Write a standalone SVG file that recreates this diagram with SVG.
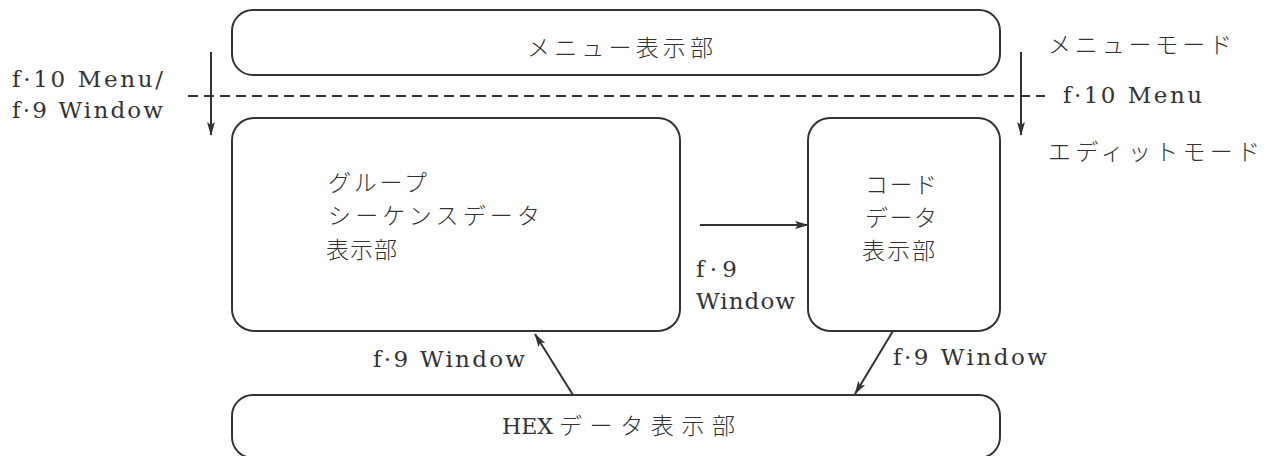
<svg xmlns="http://www.w3.org/2000/svg" width="1275" height="456" viewBox="0 0 1275 456">
<style>
.box{fill:none;stroke:#333;stroke-width:2}
.ln{fill:none;stroke:#333;stroke-width:2}
.t{font-family:"DejaVu Serif","Liberation Serif","Noto Sans CJK JP",serif;font-size:23px;fill:#333}
.j{font-family:"Noto Sans CJK JP","Liberation Serif",sans-serif;font-size:23px;fill:#333;font-weight:300}
</style>
<defs>
<marker id="ah" viewBox="0 0 14 10" refX="13" refY="5" markerWidth="14" markerHeight="10" markerUnits="userSpaceOnUse" orient="auto">
<path d="M0,1 L14,5 L0,9 L3,5 Z" fill="#333"/>
</marker>
</defs>
<rect width="1275" height="456" fill="#fff"/>
<g id="menu">
<rect class="box" x="232" y="10" width="768" height="65" rx="21"/>
<text class="j" x="527" y="56" textLength="186" lengthAdjust="spacing">メニュー表示部</text>
</g>
<g id="group">
<rect class="box" x="232" y="118" width="448" height="213" rx="22"/>
<text class="j" x="328" y="191" textLength="99" lengthAdjust="spacing">グループ</text>
<text class="j" x="328" y="224" textLength="212" lengthAdjust="spacing">シーケンスデータ</text>
<text class="j" x="326" y="258" textLength="71" lengthAdjust="spacing">表示部</text>
</g>
<g id="code">
<rect class="box" x="808" y="118" width="192" height="213" rx="22"/>
<text class="j" x="865" y="193" textLength="72" lengthAdjust="spacing">コード</text>
<text class="j" x="865" y="226" textLength="72" lengthAdjust="spacing">データ</text>
<text class="j" x="862" y="259" textLength="73" lengthAdjust="spacing">表示部</text>
</g>
<g id="hex">
<rect class="box" x="232" y="395" width="768" height="63" rx="21"/>
<text class="t" x="502" y="434" textLength="51" lengthAdjust="spacingAndGlyphs">HEX</text>
<text class="j" x="559" y="434" textLength="176" lengthAdjust="spacing">データ表示部</text>
</g>
<g id="modes">
<text class="j" x="1048" y="53" textLength="184" lengthAdjust="spacing">メニューモード</text>
<text class="j" x="1048" y="160" textLength="212" lengthAdjust="spacing">エディットモード</text>
</g>
<g id="connectors">
<line class="ln" x1="188" y1="96" x2="1045" y2="96" stroke-dasharray="10,6"/>
<line class="ln" x1="211" y1="52" x2="211" y2="135" marker-end="url(#ah)"/>
<line class="ln" x1="1021" y1="52" x2="1021" y2="135" marker-end="url(#ah)"/>
<line class="ln" x1="700" y1="225" x2="808" y2="225" marker-end="url(#ah)"/>
<line class="ln" x1="573" y1="395" x2="535" y2="334" marker-end="url(#ah)"/>
<line class="ln" x1="893" y1="331" x2="855" y2="394" marker-end="url(#ah)"/>
<text class="t" x="12" y="87" textLength="151" lengthAdjust="spacing">f·10 Menu/</text>
<text class="t" x="12" y="118" textLength="151" lengthAdjust="spacing">f·9 Window</text>
<text class="t" x="1063" y="103" textLength="139" lengthAdjust="spacing">f·10 Menu</text>
<text class="t" x="696" y="277" textLength="41" lengthAdjust="spacing">f·9</text>
<text class="t" x="696" y="309" textLength="99" lengthAdjust="spacing">Window</text>
<text class="t" x="373" y="367" textLength="152" lengthAdjust="spacing">f·9 Window</text>
<text class="t" x="893" y="365" textLength="154" lengthAdjust="spacing">f·9 Window</text>
</g>
</svg>
